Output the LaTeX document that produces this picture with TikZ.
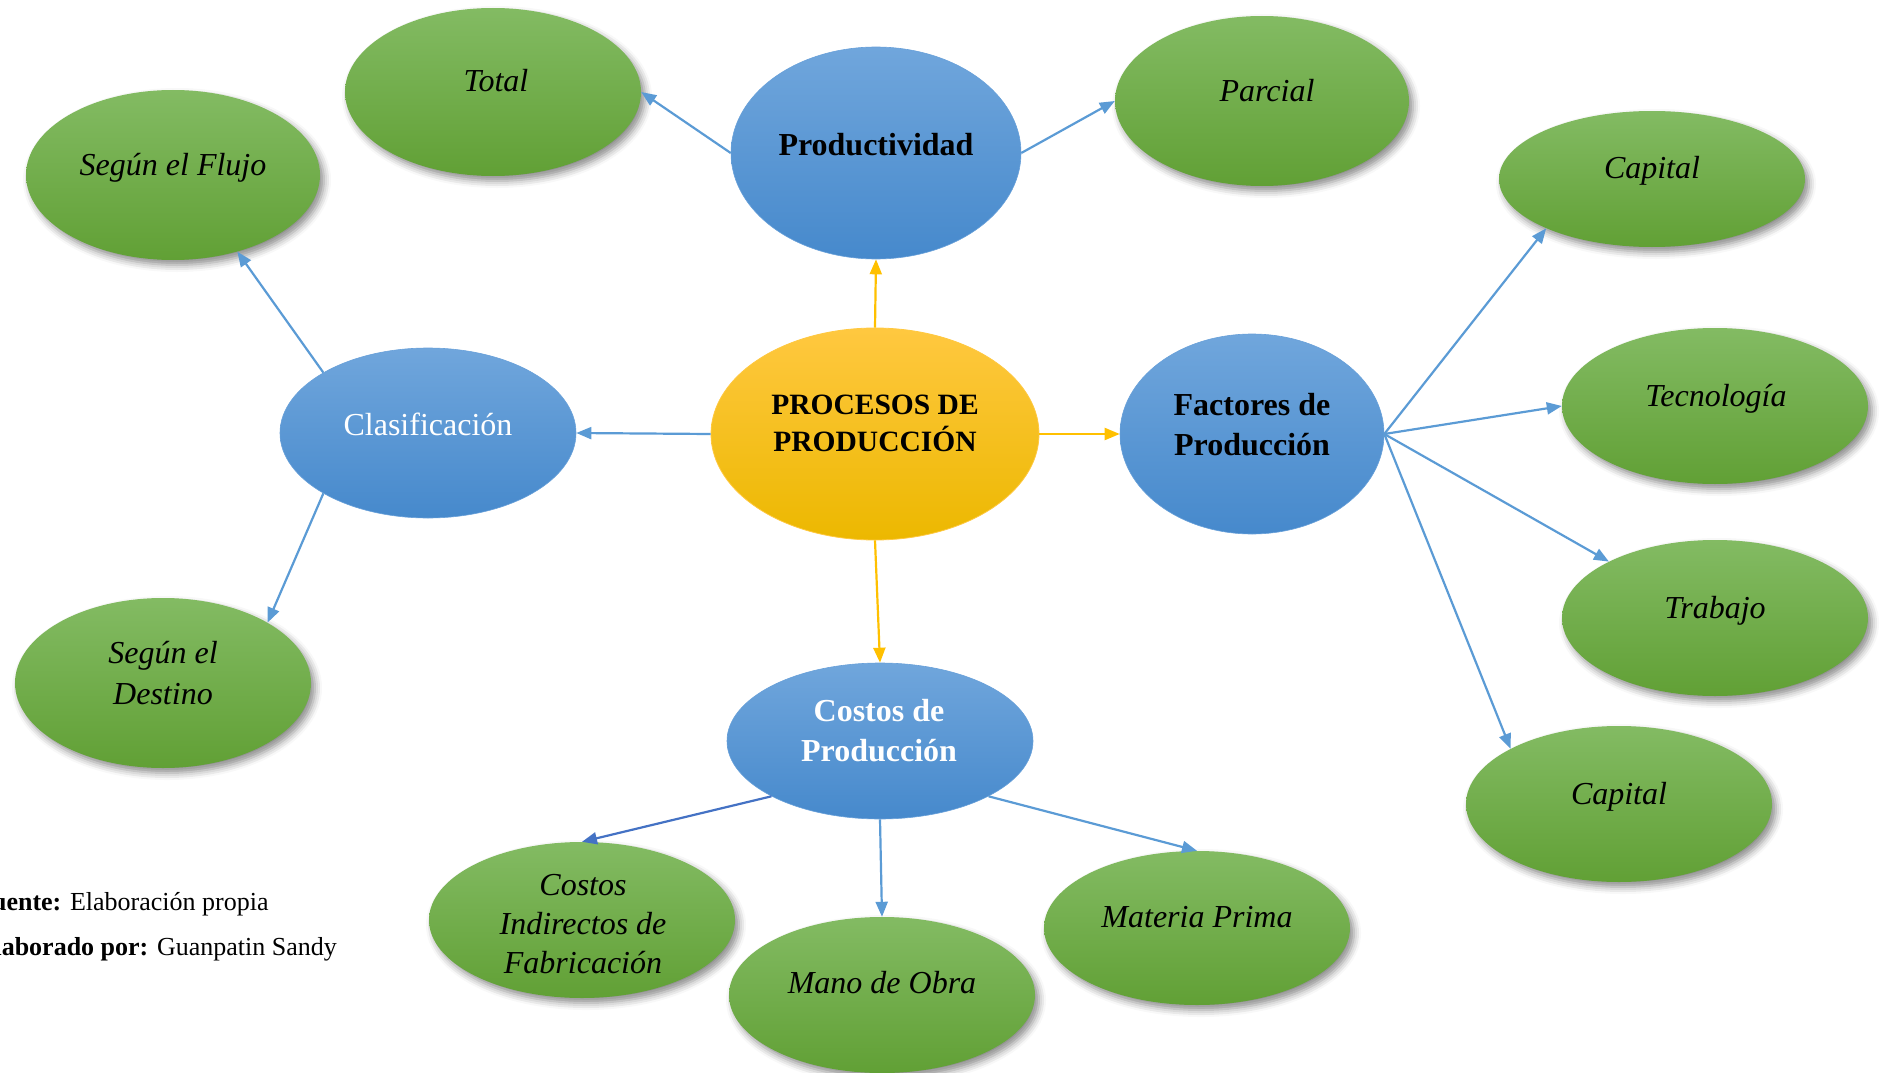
\documentclass[tikz,border=0pt]{standalone}
\usepackage{fontspec}
\setmainfont{Liberation Serif}
\usetikzlibrary{shapes.geometric,arrows.meta,shadows.blur}

\definecolor{grnTop}{RGB}{131,187,99}
\definecolor{grnBot}{RGB}{97,160,53}
\definecolor{bluTop}{RGB}{112,166,220}
\definecolor{bluBot}{RGB}{70,137,204}
\definecolor{yelTop}{RGB}{255,200,64}
\definecolor{yelBot}{RGB}{236,184,0}
\definecolor{lineBlue}{RGB}{91,155,213}
\definecolor{lineGold}{RGB}{255,192,0}
\definecolor{lineDark}{RGB}{68,114,196}

% centred block of lines whose anchor is the baseline of the first line
\newcommand\linesblock[2]{\vtop{\baselineskip=#1pt\halign{\hfil##\hfil\cr#2\crcr}}}

\tikzset{
  oval/.style 2 args={ellipse, inner sep=0pt, minimum width=#1pt, minimum height=#2pt},
  grn/.style={top color=grnTop, bottom color=grnBot,
    blur shadow={shadow xshift=4pt, shadow yshift=-5pt, shadow blur radius=7pt, shadow opacity=45}},
  blu/.style={top color=bluTop, bottom color=bluBot, draw=bluTop!80!bluBot, line width=0.6pt},
  gld/.style={top color=yelTop, bottom color=yelBot, draw=yelTop, line width=0.8pt},
  lbl/.style={anchor=base, inner sep=0pt, font=\fontsize{32}{40}\selectfont},
  conn/.style={line width=2.2pt, -{Triangle[length=15pt,width=12pt]}},
  bconn/.style={conn, draw=lineBlue, fill=lineBlue},
  gconn/.style={conn, draw=lineGold, fill=lineGold},
}

\begin{document}
\begin{tikzpicture}[x=1pt,y=-1pt]
\useasboundingbox (0,0) rectangle (1880,1073);
\clip (0,0) rectangle (1880,1073);

% ellipses
\node[oval={296}{168}, grn] (total)   at (493,92)   {};
\node[oval={294}{170}, grn] (parcial) at (1262,101) {};
\node[oval={294}{170}, grn] (flujo)   at (173,175)  {};
\node[oval={306}{136}, grn] (cap1)    at (1652,179) {};
\node[oval={306}{156}, grn] (tec)     at (1715,406) {};
\node[oval={306}{156}, grn] (trab)    at (1715,618) {};
\node[oval={306}{156}, grn] (cap2)    at (1619,804) {};
\node[oval={296}{170}, grn] (dest)    at (163,683)  {};
\node[oval={306}{156}, grn] (indir)   at (582,920)  {};
\node[oval={306}{154}, grn] (mat)     at (1197,928) {};
\node[oval={306}{156}, grn] (mano)    at (882,995)  {};

\node[oval={290}{212}, blu] (prod)   at (876,153)  {};
\node[oval={296}{170}, blu] (clas)   at (428,433)  {};
\node[oval={264}{200}, blu] (fact)   at (1252,434) {};
\node[oval={306}{156}, blu] (costos) at (880,741)  {};
\node[oval={328}{212}, gld] (proc)   at (875,434)  {};

% labels
\node[lbl] (total-t)   at (496,92)   {\itshape Total};
\node[lbl] (parcial-t) at (1267,101) {\itshape Parcial};
\node[lbl] (flujo-t)   at (173,175)  {\itshape Según el Flujo};
\node[lbl] (cap1-t)    at (1652,178) {\itshape Capital};
\node[lbl] (tec-t)     at (1716,406) {\itshape Tecnología};
\node[lbl] (trab-t)    at (1715,618) {\itshape Trabajo};
\node[lbl] (cap2-t)    at (1619,804) {\itshape Capital};
\node[lbl] (dest-t)    at (163,663)  {\itshape\linesblock{41}{Según el\cr Destino}};
\node[lbl] (indir-t)   at (583,895)  {\itshape\linesblock{39}{Costos\cr Indirectos de\cr Fabricación}};
\node[lbl] (mat-t)     at (1197,927) {\itshape Materia Prima};
\node[lbl] (mano-t)    at (882,993)  {\itshape Mano de Obra};

\node[lbl] (prod-t)   at (876,155)  {\bfseries Productividad};
\node[lbl, text=white] (clas-t) at (428,435) {Clasificación};
\node[lbl] (fact-t)   at (1252,415) {\bfseries\linesblock{40}{Factores de\cr Producción}};
\node[lbl, text=white] (costos-t) at (879,721) {\bfseries\linesblock{40}{Costos de\cr Producción}};
\node[lbl, font=\fontsize{29.5}{37}\selectfont] (proc-t) at (875,414)
  {\bfseries\linesblock{37}{PROCESOS DE\cr PRODUCCIÓN}};

% source note
\node[anchor=base west, inner sep=0pt, font=\fontsize{26}{32}\selectfont] (src)
  at (-24,910) {\textbf{Fuente:} Elaboración propia};
\node[anchor=base west, inner sep=0pt, font=\fontsize{26}{32}\selectfont] (auth)
  at (-23,955) {\textbf{Elaborado por:} Guanpatin Sandy};

% connectors from the centre
\draw[gconn] (proc.north) -- (prod.south);
\draw[bconn] (proc.west)  -- (clas.east);
\draw[gconn] (proc.east)  -- (fact.west);
\draw[gconn] (proc.south) -- (costos.north);

% productividad
\draw[bconn] (prod.west) -- (total.east);
\draw[bconn] (prod.east) -- (parcial.west);

% clasificación
\draw[bconn] (clas.150) -- (flujo.-50);
\draw[bconn] (clas.210) -- (dest.30);

% factores de producción
\draw[bconn] (fact.east) -- (cap1.205);
\draw[bconn] (fact.east) -- (tec.west);
\draw[bconn] (fact.east) -- (trab.152);
\draw[bconn] (fact.east) -- (cap2.153);

% costos de producción
\draw[conn, draw=lineDark, fill=lineDark] (costos.207) -- (indir.north);
\draw[bconn] (costos.south) -- (mano.north);
\draw[bconn] (costos.-27) -- (mat.north);
\end{tikzpicture}
\end{document}
